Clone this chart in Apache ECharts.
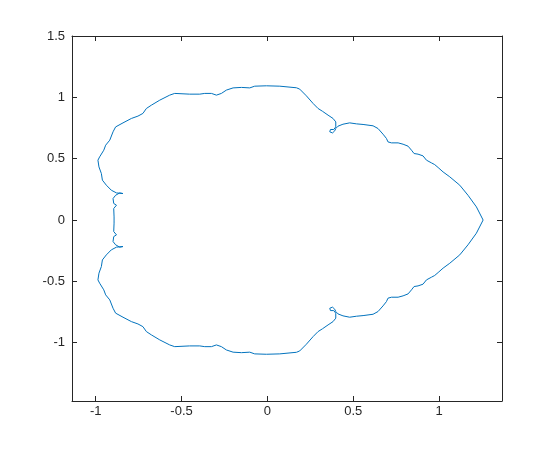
<!DOCTYPE html>
<html>
<head>
<meta charset="utf-8">
<script src="https://cdn.jsdelivr.net/npm/echarts@6/dist/echarts.min.js"></script>
<style>
  html, body { margin: 0; padding: 0; background: #fff; }
  #chart { width: 556px; height: 452px; }
</style>
</head>
<body>
<div id="chart"></div>
<script>
// outline points, going round from the right tip
const xData = [
  1.256, 1.217, 1.168, 1.120, 1.062, 1.023, 0.994, 0.974, 0.955, 0.926,
  0.906, 0.877, 0.854, 0.839, 0.819, 0.790, 0.761, 0.722, 0.702, 0.693,
  0.673, 0.644, 0.615, 0.557, 0.518, 0.479, 0.440, 0.411, 0.398, 0.392,
  0.379, 0.363, 0.367, 0.386, 0.398, 0.398, 0.382, 0.353, 0.320, 0.295,
  0.266, 0.227, 0.188, 0.169, 0.072, -0.006, -0.074, -0.103, -0.151, -0.200,
  -0.239, -0.268, -0.297, -0.326, -0.365, -0.394, -0.453, -0.540, -0.569, -0.627,
  -0.676, -0.705, -0.725, -0.754, -0.792, -0.841, -0.884, -0.899, -0.918, -0.942,
  -0.953, -0.977, -0.987, -0.981, -0.967, -0.961, -0.938, -0.909, -0.879, -0.841,
  -0.860, -0.884, -0.899, -0.895, -0.879, -0.895, -0.893, -0.893,
  -0.893, -0.895, -0.879, -0.895, -0.899, -0.884, -0.860, -0.841, -0.879, -0.909,
  -0.938, -0.961, -0.967, -0.981, -0.987, -0.977, -0.953, -0.942, -0.918, -0.899,
  -0.884, -0.841, -0.792, -0.754, -0.725, -0.705, -0.676, -0.627, -0.569, -0.540,
  -0.453, -0.394, -0.365, -0.326, -0.297, -0.268, -0.239, -0.200, -0.151, -0.103,
  -0.074, -0.006, 0.072, 0.169, 0.188, 0.227, 0.266, 0.295, 0.320, 0.353,
  0.382, 0.398, 0.398, 0.386, 0.367, 0.363, 0.379, 0.392, 0.398, 0.411,
  0.440, 0.479, 0.518, 0.557, 0.615, 0.644, 0.673, 0.693, 0.702, 0.722,
  0.761, 0.790, 0.819, 0.839, 0.854, 0.877, 0.906, 0.926, 0.955, 0.974,
  0.994, 1.023, 1.062, 1.120, 1.168, 1.217, 1.256
];
const yData = [
  0.000, 0.107, 0.202, 0.284, 0.352, 0.392, 0.428, 0.452, 0.466, 0.488,
  0.523, 0.537, 0.542, 0.569, 0.602, 0.618, 0.629, 0.629, 0.637, 0.665,
  0.700, 0.746, 0.768, 0.779, 0.784, 0.792, 0.781, 0.765, 0.746, 0.727,
  0.710, 0.719, 0.738, 0.738, 0.759, 0.800, 0.828, 0.855, 0.887, 0.909,
  0.950, 1.012, 1.067, 1.078, 1.091, 1.094, 1.091, 1.077, 1.081, 1.077,
  1.059, 1.032, 1.018, 1.032, 1.032, 1.026, 1.026, 1.032, 1.018, 0.977,
  0.936, 0.909, 0.869, 0.847, 0.828, 0.792, 0.759, 0.719, 0.651, 0.610,
  0.569, 0.515, 0.488, 0.433, 0.379, 0.325, 0.284, 0.243, 0.221, 0.216,
  0.221, 0.202, 0.175, 0.135, 0.121, 0.094, 0.025, 0.000,
  -0.025, -0.094, -0.121, -0.135, -0.175, -0.202, -0.221, -0.216, -0.221, -0.243,
  -0.284, -0.325, -0.379, -0.433, -0.488, -0.515, -0.569, -0.610, -0.651, -0.719,
  -0.759, -0.792, -0.828, -0.847, -0.869, -0.909, -0.936, -0.977, -1.018, -1.032,
  -1.026, -1.026, -1.032, -1.032, -1.018, -1.032, -1.059, -1.077, -1.081, -1.077,
  -1.091, -1.094, -1.091, -1.078, -1.067, -1.012, -0.950, -0.909, -0.887, -0.855,
  -0.828, -0.800, -0.759, -0.738, -0.738, -0.719, -0.710, -0.727, -0.746, -0.765,
  -0.781, -0.792, -0.784, -0.779, -0.768, -0.746, -0.700, -0.665, -0.637, -0.629,
  -0.629, -0.618, -0.602, -0.569, -0.542, -0.537, -0.523, -0.488, -0.466, -0.452,
  -0.428, -0.392, -0.352, -0.284, -0.202, -0.107, 0.000
];
const xTicks = [-1, -0.5, 0, 0.5, 1];
const yTicks = [-1, -0.5, 0, 0.5, 1, 1.5];

const xMin = -1.138, xMax = 1.366;
const yMin = -1.475, yMax = 1.5;

const points = xData.map((x, i) => [x, yData[i]]);

const chart = echarts.init(document.getElementById('chart'));
const axisColor = '#262626';

function boxAxis (min, max, ticks, pos, labels) {
  return {
    type: 'value',
    position: pos,
    min: min,
    max: max,
    splitLine: { show: false },
    axisLine: { show: true, onZero: false, lineStyle: { color: axisColor, width: 1 } },
    axisTick: { show: true, inside: true, length: 5, customValues: ticks, lineStyle: { color: axisColor } },
    axisLabel: {
      show: labels,
      customValues: ticks,
      color: axisColor,
      fontFamily: 'Liberation Sans',
      fontSize: 13,
      margin: (pos === 'bottom') ? 4 : 7,
      formatter: v => String(v)
    }
  }
}

const option = {
  animation: false,
  grid: { left: 72, top: 36, width: 430, height: 365 },
  xAxis: [
    boxAxis(xMin, xMax, xTicks, 'bottom', true),
    boxAxis(xMin, xMax, xTicks, 'top', false)
  ],
  yAxis: [
    boxAxis(yMin, yMax, yTicks, 'left', true),
    boxAxis(yMin, yMax, yTicks, 'right', false)
  ],
  series: [
    {
      type: 'line',
      data: points,
      showSymbol: false,
      smooth: false,
      lineStyle: { color: '#0072BD', width: 1 },
      itemStyle: { color: '#0072BD' }
    }
  ]
}
chart.setOption(option)
</script>
</body>
</html>
